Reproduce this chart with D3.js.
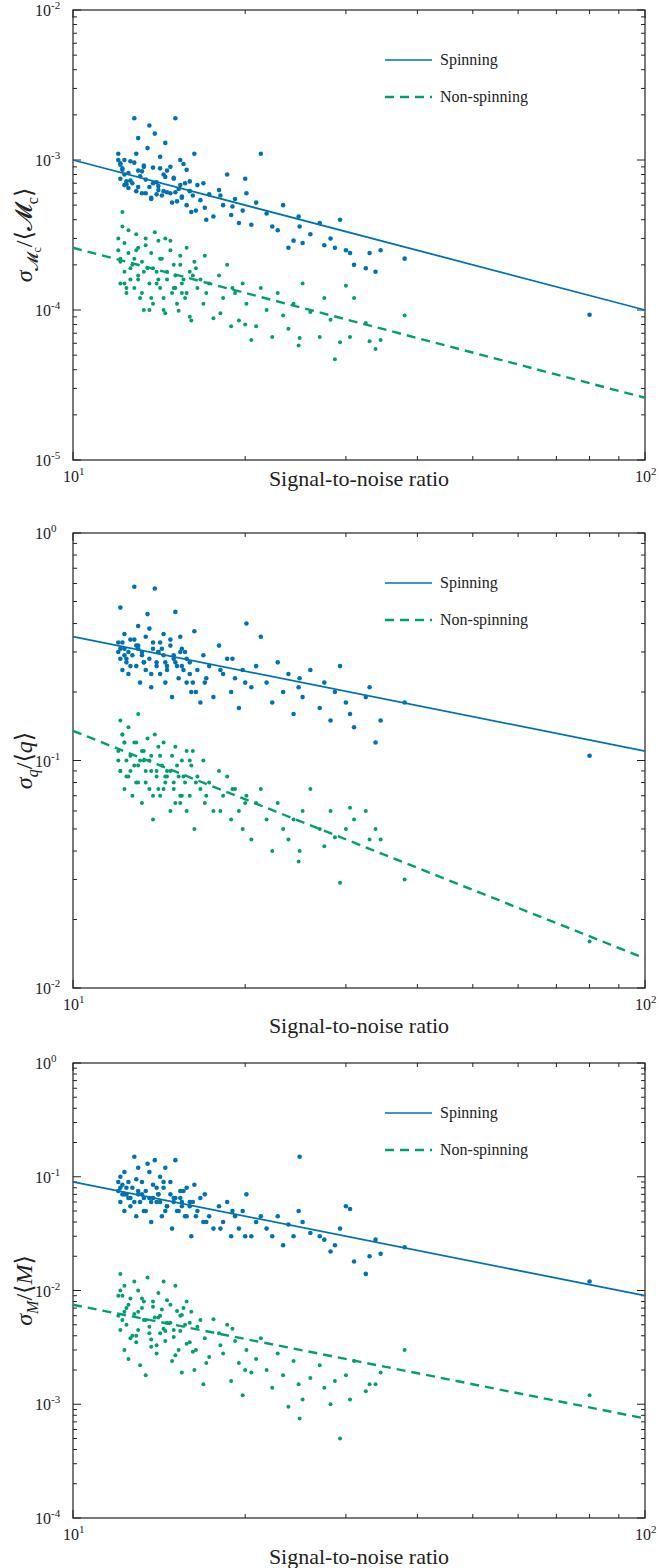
<!DOCTYPE html>
<html><head><meta charset="utf-8">
<script src="https://cdn.jsdelivr.net/npm/d3@7"></script>
<style>body{margin:0;background:#fff}svg{display:block}</style>
</head><body>
<script>
// signal-to-noise ratio of each event (shared by all three panels)
var snr = [12.0,12.1,12.1,12.2,12.3,12.3,12.4,12.5,12.5,12.6,
	12.7,12.8,12.9,13.0,13.0,13.1,13.2,13.3,13.4,13.5,
	13.6,13.7,13.8,13.9,14.0,14.1,14.2,14.3,14.4,14.5,
	14.6,14.8,14.9,15.0,15.1,15.3,15.4,15.5,15.7,15.8,
	16.0,16.1,16.3,16.5,16.7,16.9,17.0,17.3,17.6,18.0,
	18.3,18.6,18.9,19.2,19.5,19.8,20.1,20.5,20.9,21.3,
	21.8,22.3,22.8,23.3,23.8,24.3,24.8,24.9,25.2,26.0,
	27.0,27.5,28.2,28.7,29.3,30.0,30.5,31.0,32.5,33.0,
	33.8,34.5,38.0,80.0,12.0,12.2,12.4,12.6,12.8,13.0,
	13.2,13.4,13.6,13.8,14.0,14.2,14.4,14.6,14.8,15.0,
	15.2,15.4,15.6,15.8,16.0,16.2,12.1,12.3,12.9,13.3,
	13.7,14.1,14.5,15.1,15.5,16.4,17.1,18.1,19.0,20.0];

// chirp mass errors, in units of 1e-4
var mcSpin = [11,9.5,7.5,8.8,6.8,10,7.2,8.2,6.5,9.8,
	7.0,19,6.2,8.5,14,7.8,6.0,9.2,7.4,12,
	6.6,5.5,8.9,15,7.1,6.3,10.5,5.8,8.0,13,
	6.1,9.0,5.2,7.5,19,6.4,10,5.6,7.0,8.6,
	6.2,4.5,11,6.8,5.4,7.0,4.8,5.9,4.2,6.3,
	5.0,8.0,4.3,5.5,3.8,4.6,6.0,3.7,5.2,11,
	4.4,3.6,3.4,5.0,2.6,2.9,4.2,3.6,2.8,3.2,
	3.8,2.7,3.0,2.6,4.0,2.5,2.4,2.0,1.9,2.4,
	1.8,2.5,2.2,0.93,10,8.6,6.9,7.3,9.6,6.6,
	8.4,6.0,17,7.0,5.9,8.8,6.2,8.5,6.0,7.6,
	5.3,6.8,9.4,5.0,7.2,5.8,9.3,8.0,11,9.0,
	5.6,6.7,7.7,6.1,5.7,4.6,4.0,5.8,4.9,7.5];
var mcNon = [3.0,1.5,2.2,4.5,1.8,2.8,1.3,3.4,2.4,1.6,
	2.0,1.4,3.2,1.7,2.6,1.2,2.1,1.0,3.0,1.9,
	1.5,2.4,1.1,3.3,1.8,2.9,1.4,2.2,1.0,3.0,
	1.6,2.5,1.3,2.0,1.7,0.99,2.3,1.5,1.2,2.6,
	1.8,0.85,2.1,1.4,1.6,1.1,2.3,1.5,0.88,1.7,
	1.2,2.0,0.78,1.3,0.85,1.5,1.1,0.63,0.78,1.4,
	1.0,0.66,1.3,0.92,0.75,1.1,0.58,0.65,1.5,0.97,
	0.66,1.2,0.86,0.47,0.61,1.45,0.66,1.2,0.82,0.62,
	0.55,0.63,0.92,null,2.5,3.6,1.4,1.9,2.2,1.6,
	1.3,2.7,1.0,1.9,1.5,2.2,1.2,1.8,2.9,1.4,
	1.1,2.0,1.6,1.3,0.9,1.7,2.1,1.5,2.5,1.8,
	1.2,1.6,0.95,1.4,1.3,1.9,1.3,0.95,1.4,0.80];

// mass ratio errors
var qSpin = [0.33,0.28,0.47,0.25,0.31,0.36,0.27,0.30,0.24,0.34,
	0.29,0.58,0.26,0.32,0.39,0.22,0.30,0.27,0.35,0.44,
	0.28,0.21,0.33,0.57,0.26,0.30,0.24,0.31,0.36,0.27,
	0.25,0.32,0.19,0.29,0.45,0.23,0.35,0.26,0.30,0.22,
	0.27,0.20,0.37,0.25,0.18,0.29,0.22,0.26,0.19,0.32,
	0.24,0.28,0.20,0.23,0.17,0.25,0.40,0.21,0.26,0.35,
	0.22,0.18,0.27,0.20,0.24,0.16,0.21,0.23,0.19,0.25,
	0.17,0.22,0.15,0.20,0.26,0.18,0.16,0.14,0.19,0.21,
	0.12,0.15,0.18,0.105,0.30,0.33,0.28,0.26,0.34,0.31,
	0.29,0.25,0.38,0.31,0.27,0.33,0.29,0.26,0.34,0.28,
	0.26,0.30,0.25,0.28,0.24,0.22,0.31,0.29,0.32,0.27,
	0.24,0.30,0.22,0.27,0.31,0.20,0.23,0.25,0.28,0.22];
var qNon = [0.11,0.15,0.09,0.13,0.075,0.12,0.10,0.14,0.085,0.105,
	0.07,0.095,0.12,0.08,0.16,0.10,0.065,0.11,0.09,0.125,
	0.075,0.105,0.055,0.13,0.085,0.115,0.07,0.095,0.12,0.08,
	0.09,0.06,0.105,0.075,0.115,0.085,0.065,0.10,0.08,0.11,
	0.07,0.095,0.05,0.085,0.075,0.10,0.065,0.08,0.06,0.09,
	0.07,0.085,0.055,0.075,0.06,0.05,0.07,0.045,0.065,0.075,
	0.055,0.04,0.065,0.05,0.045,0.055,0.036,0.04,0.06,0.075,
	0.05,0.042,0.06,0.046,0.029,0.05,0.062,0.055,0.06,0.045,
	0.05,0.045,0.03,0.016,0.10,0.13,0.085,0.09,0.12,0.095,
	0.11,0.08,0.10,0.07,0.09,0.105,0.075,0.085,0.09,0.08,
	0.095,0.07,0.085,0.06,0.10,0.11,0.09,0.12,0.08,0.10,
	0.09,0.075,0.085,0.065,0.07,0.08,0.07,0.06,0.075,0.065];

// total mass errors (non-spinning in units of 1e-3)
var mSpin = [0.075,0.10,0.06,0.085,0.05,0.11,0.07,0.065,0.09,0.055,
	0.08,0.15,0.045,0.07,0.12,0.06,0.09,0.05,0.075,0.13,
	0.065,0.04,0.085,0.14,0.06,0.07,0.10,0.045,0.08,0.12,
	0.055,0.09,0.035,0.065,0.14,0.05,0.075,0.06,0.045,0.08,
	0.06,0.03,0.085,0.05,0.065,0.04,0.07,0.045,0.035,0.055,
	0.04,0.06,0.03,0.045,0.035,0.05,0.07,0.03,0.04,0.045,
	0.035,0.03,0.045,0.025,0.038,0.03,0.05,0.15,0.04,0.032,
	0.03,0.028,0.022,0.025,0.035,0.055,0.052,0.018,0.014,0.02,
	0.028,0.021,0.024,0.012,0.09,0.07,0.08,0.065,0.06,0.075,
	0.07,0.05,0.11,0.065,0.08,0.06,0.09,0.055,0.07,0.06,
	0.05,0.065,0.075,0.045,0.055,0.06,0.08,0.07,0.095,0.065,
	0.06,0.07,0.05,0.065,0.055,0.045,0.04,0.035,0.05,0.03];
var mNon = [6.0,14,4.5,9.0,3.0,11,5.0,7.5,2.5,8.5,
	4.0,12,3.5,6.5,10,2.2,7.0,5.5,1.8,13,
	4.8,3.2,8.0,5.8,2.8,9.5,4.2,6.8,12,3.6,
	5.2,7.5,2.4,4.5,11,3.0,6.0,1.9,5.0,8.0,
	3.5,6.5,2.0,4.8,5.5,1.5,3.8,2.6,5.6,4.2,
	2.8,5.0,1.6,3.6,2.3,1.2,3.0,1.9,2.5,3.8,
	2.0,1.4,2.8,1.8,0.95,2.4,1.5,0.75,1.1,1.7,
	2.2,1.4,1.0,1.6,0.5,1.8,1.1,2.4,1.3,1.5,
	1.5,1.9,3.0,1.2,9.0,5.5,7.0,3.8,6.2,4.5,
	8.5,5.5,4.2,7.2,3.3,6.0,4.6,8.2,5.2,3.9,
	6.6,4.4,7.0,3.4,5.2,2.9,10,6.5,4.0,8.0,
	3.7,5.8,4.4,2.7,6.1,3.0,2.3,3.3,4.6,2.0];

// fitted trend lines: value at SNR 10 and SNR 100
var fitSpin = [[1e-3, 1e-4], [0.35, 0.11], [0.09, 0.009]];
var fitNon = [[2.6e-4, 2.6e-5], [0.135, 0.0135], [0.0075, 0.00075]];
var yDomains = [[1e-5, 1e-2], [1e-2, 1], [1e-4, 1]];
var xTicks = [10, 100];
var legendLabels = ["Spinning", "Non-spinning"];

var panels = [
	{ spin: mcSpin.map(function(v) { return v * 1e-4; }), non: mcNon.map(function(v) { return v == null ? null : v * 1e-4; }), top: 10, bottom: 460, xlab: 478, ylab: [["σ", "i"], ["𝓜", "sub"], ["c", "subsub"], ["/⟨𝓜", ""], ["c", "sub"], ["⟩", ""]] },
	{ spin: qSpin, non: qNon, top: 533, bottom: 988, xlab: 1025, ylab: [["σ", "i"], ["q", "subi"], ["/⟨", ""], ["q", "i"], ["⟩", ""]] },
	{ spin: mSpin, non: mNon.map(function(v) { return v * 1e-3; }), top: 1063, bottom: 1518, xlab: 1556, ylab: [["σ", "i"], ["M", "subi"], ["/⟨", ""], ["M", "i"], ["⟩", ""]] }
];

var blue = "#0072b2", green = "#009e73";
var serif = "'DejaVu Serif', 'Liberation Serif', serif";
var left = 73, right = 645;
var svg = d3.select("body").append("svg").attr("width", 659).attr("height", 1568)
	.attr("font-family", "'Liberation Serif', 'DejaVu Serif', serif");

function supLabel(g, v) {
	var e = Math.round(Math.log10(v));
	var t = g.append("text").attr("font-size", 16).attr("fill", "#222");
	t.append("tspan").text("10");
	t.append("tspan").attr("dy", -7).attr("font-size", 11).text(e);
	return t;
}

panels.forEach(function(p, pi) {
	var x = d3.scaleLog().domain([10, 100]).range([left, right]);
	var y = d3.scaleLog().domain(yDomains[pi]).range([p.bottom, p.top]);
	var g = svg.append("g");

	// ticks, inward on all four sides
	d3.range(10, 101, 10).forEach(function(v) {
		var len = (v === 10 || v === 100) ? 8 : 4;
		g.append("line").attr("x1", x(v)).attr("x2", x(v)).attr("y1", p.bottom).attr("y2", p.bottom - len).attr("stroke", "#222");
		g.append("line").attr("x1", x(v)).attr("x2", x(v)).attr("y1", p.top).attr("y2", p.top + len).attr("stroke", "#222");
	});
	var e0 = Math.round(Math.log10(yDomains[pi][0])), e1 = Math.round(Math.log10(yDomains[pi][1]));
	for (var e = e0; e <= e1; e++) {
		for (var m = 1; m <= 9; m++) {
			var v = m * Math.pow(10, e);
			if (v > yDomains[pi][1] * 1.001) break;
			var len = m === 1 ? 8 : 4;
			g.append("line").attr("x1", left).attr("x2", left + len).attr("y1", y(v)).attr("y2", y(v)).attr("stroke", "#222");
			g.append("line").attr("x1", right).attr("x2", right - len).attr("y1", y(v)).attr("y2", y(v)).attr("stroke", "#222");
		}
		supLabel(g, Math.pow(10, e)).attr("x", left - 38).attr("y", y(Math.pow(10, e)) + 6);
	}
	xTicks.forEach(function(v) {
		supLabel(g, v).attr("x", x(v) - 10).attr("y", p.bottom + 22);
	});

	g.append("rect").attr("x", left).attr("y", p.top).attr("width", right - left).attr("height", p.bottom - p.top)
		.attr("fill", "none").attr("stroke", "#222").attr("stroke-width", 1.2);

	// scatter
	[[p.spin, blue], [p.non, green]].forEach(function(s) {
		g.selectAll(null).data(snr.map(function(d, i) { return [d, s[0][i]]; }).filter(function(d) { return d[1] != null; }))
			.enter().append("circle")
			.attr("cx", function(d) { return x(d[0]); })
			.attr("cy", function(d) { return y(d[1]); })
			.attr("r", s[1] === blue ? 2.3 : 2).attr("fill", s[1]);
	});

	// fit lines
	var line = d3.line().x(function(d) { return x(d[0]); }).y(function(d) { return y(d[1]); });
	g.append("path").attr("d", line([[10, fitSpin[pi][0]], [100, fitSpin[pi][1]]])).attr("stroke", blue).attr("stroke-width", 1.8).attr("fill", "none");
	g.append("path").attr("d", line([[10, fitNon[pi][0]], [100, fitNon[pi][1]]])).attr("stroke", green).attr("stroke-width", 2.4).attr("stroke-dasharray", "9,6").attr("fill", "none");

	// legend
	var ly = p.top + 50;
	g.append("line").attr("x1", 385).attr("x2", 432).attr("y1", ly).attr("y2", ly).attr("stroke", blue).attr("stroke-width", 1.6);
	g.append("line").attr("x1", 385).attr("x2", 432).attr("y1", ly + 37).attr("y2", ly + 37).attr("stroke", green).attr("stroke-width", 2.4).attr("stroke-dasharray", "9,6");
	g.append("text").attr("x", 440).attr("y", ly + 5).attr("font-size", 16).attr("fill", "#222").text(legendLabels[0]);
	g.append("text").attr("x", 440).attr("y", ly + 42).attr("font-size", 16).attr("fill", "#222").text(legendLabels[1]);

	// axis labels
	g.append("text").attr("x", (left + right) / 2).attr("y", p.xlab + 8).attr("text-anchor", "middle").attr("font-size", 22).attr("fill", "#222").text("Signal-to-noise ratio");
	var yl = g.append("text").attr("transform", "translate(32," + ((p.top + p.bottom) / 2) + ") rotate(-90)")
		.attr("text-anchor", "middle").attr("font-size", 24).attr("fill", "#222");
	var cur = 0;
	p.ylab.forEach(function(part) {
		var sub = part[1].indexOf("sub") === 0;
		var target = part[1] === "subsub" ? 9 : sub ? 6 : 0;
		var ts = yl.append("tspan").attr("dy", target - cur).text(part[0]);
		ts.attr("font-size", part[1] === "subsub" ? 12 : sub ? 16 : 24);
		if (part[1].slice(-1) === "i") ts.attr("font-style", "italic");
		cur = target;
	});
});
</script>
</body></html>
